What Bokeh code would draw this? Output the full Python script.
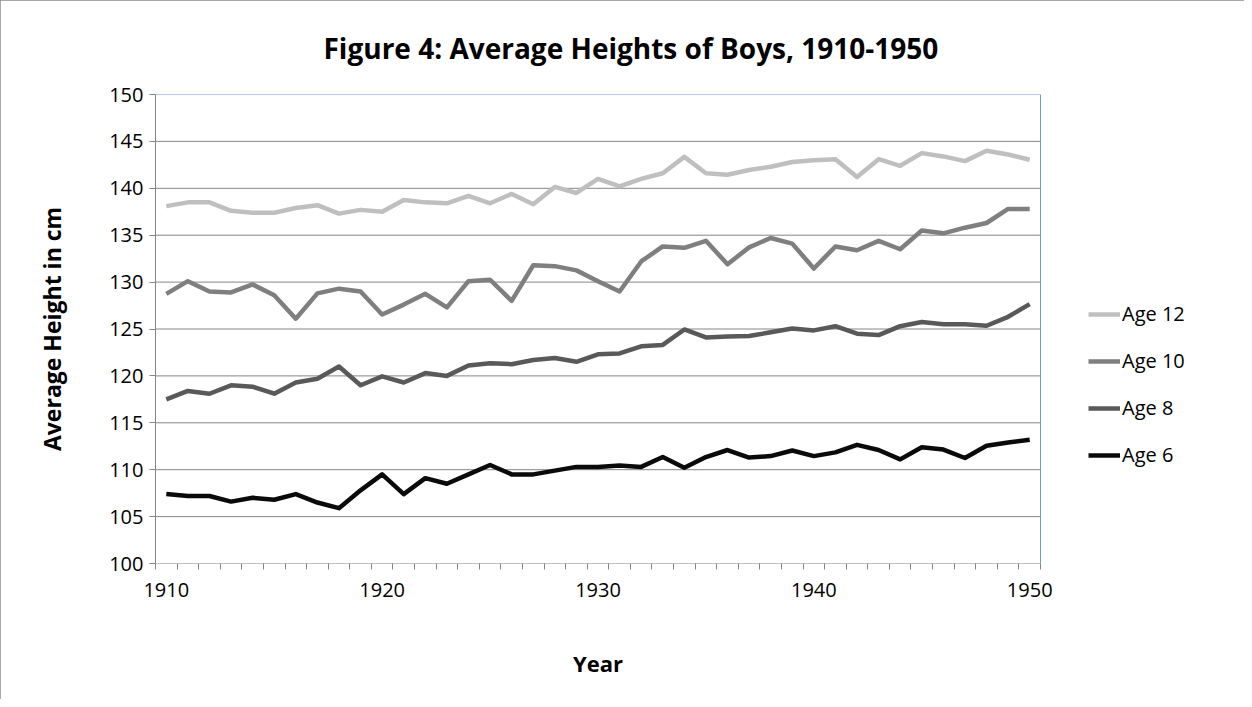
from bokeh.plotting import figure
from bokeh.models import Range1d, FixedTicker, Span, Legend, LegendItem, Title
from bokeh.embed import file_html
from bokeh.resources import INLINE

years = list(range(1910, 1951))
age12 = [138.1, 138.5, 138.5, 137.6, 137.4, 137.4, 137.9, 138.2, 137.3, 137.7,
         137.5, 138.75, 138.5, 138.4, 139.2, 138.4, 139.4, 138.3, 140.15, 139.5,
         141.0, 140.2, 141.0, 141.6, 143.35, 141.6, 141.45, 141.95, 142.3, 142.8,
         143.0, 143.1, 141.2, 143.1, 142.4, 143.75, 143.4, 142.9, 144.0, 143.6, 143.05]
age10 = [128.75, 130.1, 129.0, 128.9, 129.75, 128.6, 126.1, 128.8, 129.3, 129.0,
         126.55, 127.6, 128.75, 127.3, 130.1, 130.25, 128.0, 131.8, 131.7, 131.25,
         130.1, 129.0, 132.2, 133.8, 133.65, 134.4, 131.9, 133.7, 134.7, 134.1,
         131.45, 133.8, 133.4, 134.4, 133.5, 135.5, 135.2, 135.8, 136.3, 137.8, 137.8]
age8 = [117.5, 118.4, 118.1, 119.0, 118.85, 118.1, 119.3, 119.7, 121.0, 119.0,
        119.95, 119.3, 120.3, 120.0, 121.1, 121.35, 121.25, 121.7, 121.9, 121.5,
        122.3, 122.4, 123.15, 123.3, 124.95, 124.1, 124.2, 124.25, 124.65, 125.05,
        124.85, 125.3, 124.5, 124.35, 125.3, 125.75, 125.5, 125.5, 125.35, 126.3, 127.65]
age6 = [107.4, 107.2, 107.2, 106.6, 107.0, 106.8, 107.4, 106.5, 105.9, 107.8,
        109.5, 107.4, 109.1, 108.5, 109.5, 110.5, 109.5, 109.5, 109.9, 110.3,
        110.3, 110.45, 110.3, 111.35, 110.2, 111.35, 112.1, 111.3, 111.45, 112.05,
        111.45, 111.85, 112.65, 112.1, 111.1, 112.4, 112.15, 111.25, 112.55, 112.9, 113.2]

series_names = ["Age 12", "Age 10", "Age 8", "Age 6"]
series_colors = ["#BFBFBF", "#7F7F7F", "#595959", "#0A0A0A"]
x_tick_years = [1910, 1920, 1930, 1940, 1950]
y_ticks = list(range(100, 151, 5))

FONT = "Open Sans"
GRID = "#868686"
BLUE = "#6F9CD6"

# layout (pixels)
W, H = 1244, 699
LEFT, TOP, BOTTOM, RIGHT_PAD = 155, 94, 136, 8
PLOT_W = 885  # width of the category area
x_start = years[0] - 0.5
x_stop = years[-1] + 0.5
px_per_cat = PLOT_W / (x_stop - x_start)
frame_w = W - LEFT - RIGHT_PAD
x_end = x_start + frame_w / px_per_cat

p = figure(width=W, height=H, output_backend="svg", toolbar_location=None,
           x_range=Range1d(x_start, x_end),
           y_range=Range1d(y_ticks[0], y_ticks[-1]),
           min_border_left=LEFT, min_border_right=RIGHT_PAD,
           min_border_top=TOP, min_border_bottom=BOTTOM)
p.styles = {"outline": "2px solid #8C8C8C", "outline-offset": "-2px"}

p.title.text = "Figure 4: Average Heights of Boys, 1910-1950"
p.title.align = "left"
p.title.vertical_align = "middle"
p.title.text_font = FONT
p.title.text_font_size = "28px"
p.title.text_font_style = "bold"
p.title.text_color = "#000000"
p.title.offset = 168
p.title.standoff = 54

p.outline_line_color = None
p.background_fill_color = "white"
p.border_fill_color = "white"
p.xgrid.grid_line_color = None
p.ygrid.grid_line_color = None

xa = p.xaxis[0]
xa.ticker = FixedTicker(ticks=x_tick_years,
                        minor_ticks=[y - 0.5 for y in years] + [x_stop])
xa.major_tick_line_color = None
xa.major_tick_in = 0
xa.major_tick_out = 0
xa.minor_tick_in = 0
xa.minor_tick_out = 6
xa.minor_tick_line_color = GRID
xa.axis_line_color = None
xa.major_label_text_font = FONT
xa.major_label_text_font_size = "20px"
xa.major_label_text_color = "#000000"
xa.major_label_standoff = 13

# x axis title, centred under the plot area (not the wider frame);
# the leading empty line pushes the word a little lower in its box
xtitle = Title(text="\nYear", align="left", vertical_align="middle",
               offset=PLOT_W / 2 - 25, standoff=35,
               text_font=FONT, text_font_size="22px", text_font_style="bold",
               text_color="#000000")
p.add_layout(xtitle, "below")

ya = p.yaxis[0]
ya.ticker = FixedTicker(ticks=y_ticks)
ya.major_tick_in = 0
ya.major_tick_out = 6
ya.major_tick_line_color = GRID
ya.minor_tick_line_color = None
ya.axis_line_color = GRID
ya.major_label_text_font = FONT
ya.major_label_text_font_size = "20px"
ya.major_label_text_color = "#000000"
ya.major_label_standoff = 6
ya.axis_label = "Average Height in cm"
ya.axis_label_text_font = FONT
ya.axis_label_text_font_size = "23px"
ya.axis_label_text_font_style = "bold"
ya.axis_label_text_color = "#000000"
ya.axis_label_standoff = 38

# horizontal gridlines limited to the plot area (top one is the blue border)
grid_y = y_ticks[:-1]
p.segment(x0=[x_start] * len(grid_y), y0=grid_y, x1=[x_stop] * len(grid_y), y1=grid_y,
          line_color=GRID, line_width=1)
p.segment(x0=[x_start], y0=[y_ticks[-1]], x1=[x_stop], y1=[y_ticks[-1]],
          line_color=BLUE, line_width=1)
p.add_layout(Span(location=x_stop, dimension="height", line_color=BLUE, line_width=1))

renderers = []
for vals, col in zip([age12, age10, age8, age6], series_colors):
    r = p.line(years, vals, line_color=col, line_width=4.5, line_join="round")
    renderers.append(r)

legend = Legend(items=[LegendItem(label=n, renderers=[r]) for n, r in zip(series_names, renderers)],
                location=(933, 95))
legend.border_line_color = None
legend.background_fill_alpha = 0
legend.padding = 0
legend.margin = 0
legend.spacing = 20
legend.glyph_width = 32
legend.glyph_height = 20
legend.label_height = 20
legend.label_standoff = 2
legend.label_text_font = FONT
legend.label_text_font_size = "20px"
legend.label_text_color = "#000000"
p.add_layout(legend)

open("out.html", "w").write(file_html(p, INLINE))
